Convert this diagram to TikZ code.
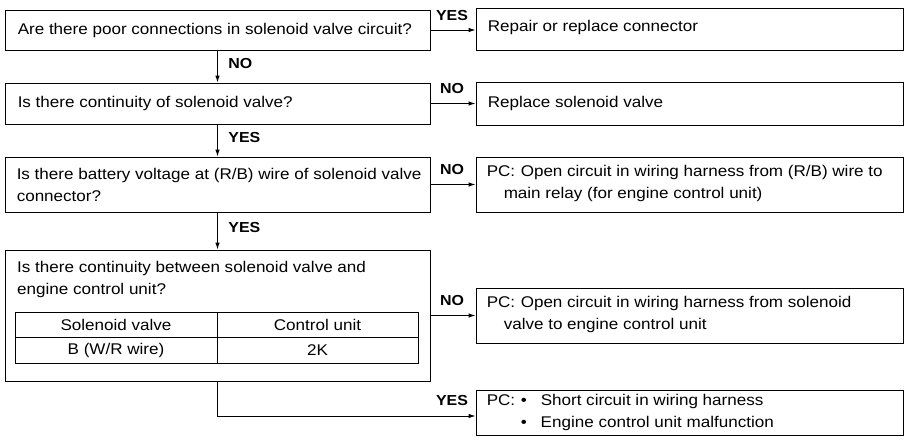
\documentclass[tikz,border=0pt]{standalone}
\usepackage{fontspec}
\setmainfont{Liberation Sans}[FakeStretch=1.1]
\usetikzlibrary{arrows.meta,calc}
\begin{document}
\begin{tikzpicture}[x=1pt,y=-1pt,
  every node/.style={font=\fontsize{15.5}{22}\selectfont},
  qbox/.style={draw,line width=0.9pt,rectangle,minimum width=425pt,minimum height=#1,inner sep=0pt},
  abox/.style={draw,line width=0.9pt,rectangle,minimum width=427pt,minimum height=#1,inner sep=0pt},
  txt/.style={align=left,inner sep=0pt,anchor=west},
  cell/.style={draw,line width=0.8pt,rectangle,minimum width=#1,minimum height=25.5pt,inner sep=0pt},
  lbl/.style={font=\fontsize{14.5}{16}\selectfont\bfseries,inner sep=0pt},
  flow/.style={line width=0.9pt,-{Latex[length=7pt,width=4.5pt]}}
]
\useasboundingbox (0,0) rectangle (907,447);

% question boxes (left column)
\node[qbox=40pt] (b1) at (217.5,30) {};
\node[qbox=41pt] (b2) at (217.5,103.5) {};
\node[qbox=55pt] (b3) at (217.5,184.5) {};
\node[qbox=131pt] (b4) at (217.5,315.5) {};

\node[txt] (t1) at ($(b1.west)+(13,0)$) {Are there poor connections in solenoid valve circuit?};
\node[txt] (t2) at ($(b2.west)+(13,0)$) {Is there continuity of solenoid valve?};
\node[txt] (t3) at ($(b3.west)+(12,0)$) {Is there battery voltage at (R/B) wire of solenoid valve\\connector?};
\node[txt] (t4) at (17,279.5) {Is there continuity between solenoid valve and\\engine control unit?};

% terminal table inside the last question
\node[cell=202pt] (c11) at (116,324.75) {Solenoid valve};
\node[cell=201pt] (c12) at (317.5,324.75) {Control unit};
\node[cell=202pt] (c21) at (116,350.25) {B (W/R wire)};
\node[cell=201pt] (c22) at (317.5,350.25) {2K};

% result boxes (right column)
\node[abox=42pt] (r1) at (689.5,29) {};
\node[abox=43pt] (r2) at (689.5,103.5) {};
\node[abox=55pt] (r3) at (689.5,184.5) {};
\node[abox=55pt] (r4) at (689.5,315.5) {};
\node[abox=45pt] (r5) at (689.5,412.5) {};

\node[txt] (s1) at ($(r1.west)+(12,-2)$) {Repair or replace connector};
\node[txt] (s2) at ($(r2.west)+(12,0)$) {Replace solenoid valve};
\node[txt] (s3) at ($(r3.west)+(11,-1.5)$) {\makebox[34pt][l]{PC:}Open circuit in wiring harness from (R/B) wire to\\\hspace*{17pt}main relay (for engine control unit)};
\node[txt] (s4) at ($(r4.west)+(11,-1)$) {\makebox[34pt][l]{PC:}Open circuit in wiring harness from solenoid\\\hspace*{17pt}valve to engine control unit};
\node[txt] (s5) at ($(r5.west)+(11,-0.5)$) {\makebox[34pt][l]{PC:}\makebox[20pt][l]{•}Short circuit in wiring harness\\\hspace*{34pt}\makebox[20pt][l]{•}Engine control unit malfunction};

% vertical NO/YES chain
\draw[flow] (b1) -- node[lbl,anchor=west,xshift=10.5pt,yshift=3pt] (n1) {NO} (b2);
\draw[flow] (b2) -- node[lbl,anchor=west,xshift=10.5pt,yshift=3pt] (n2) {YES} (b3);
\draw[flow] (b3) -- node[lbl,anchor=west,xshift=10.5pt,yshift=3pt] (n3) {YES} (b4);

% horizontal branches
\draw[flow] (b1.east) -- (b1.east -| r1.west);
\node[lbl,anchor=base] (y1) at ($(b1.east -| r1.west)+(-23.5,-10)$) {YES};
\draw[flow] (b2.east) -- (b2.east -| r2.west);
\node[lbl,anchor=base] (y2) at ($(b2.east -| r2.west)+(-23.5,-10)$) {NO};
\draw[flow] (b3.east) -- (b3.east -| r3.west);
\node[lbl,anchor=base] (y3) at ($(b3.east -| r3.west)+(-23.5,-10)$) {NO};
\draw[flow] (b4.east |- r4.west) -- (r4.west);
\node[lbl,anchor=base] (y4) at ($(r4.west)+(-23.5,-10)$) {NO};
\draw[flow] (b4.south) -- ($(b4.south |- r5.west)+(0,3.5)$) -- ($(r5.west)+(0,3.5)$);
\node[lbl,anchor=base] (y5) at ($(r5.west)+(-23.5,-7)$) {YES};
\end{tikzpicture}
\end{document}
